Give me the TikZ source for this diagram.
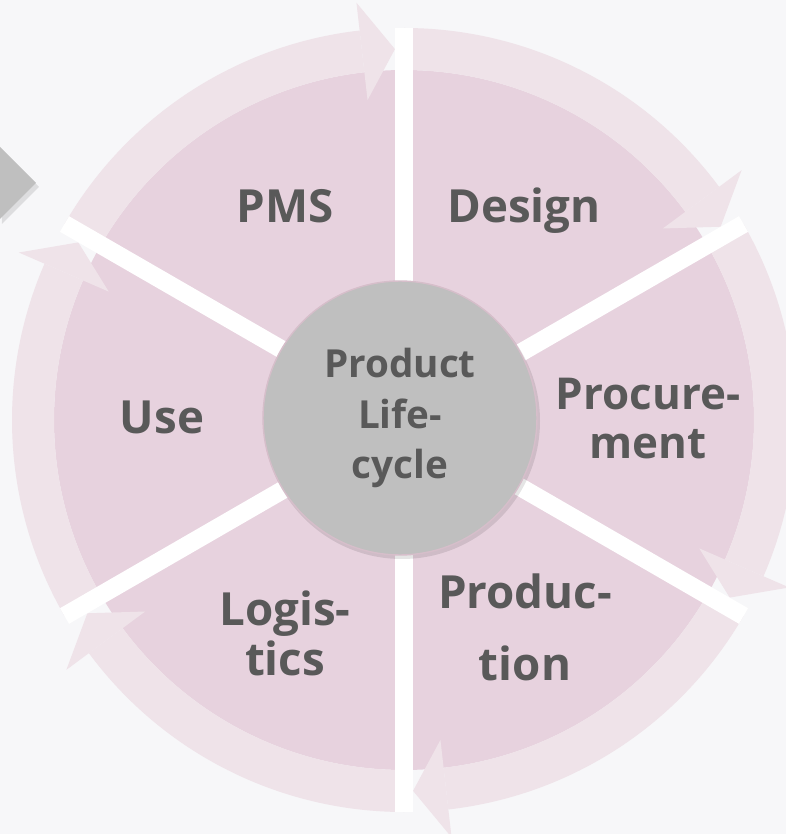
\documentclass[tikz,border=0pt]{standalone}
\usepackage{fontspec}
\setmainfont{Open Sans}
\usepackage{tikz}
\usetikzlibrary{arrows}
\definecolor{lcback}{RGB}{247,247,249}
\definecolor{lcpink}{RGB}{231,210,222}
\definecolor{lcband}{RGB}{239,227,233}
\definecolor{lchub}{RGB}{191,191,191}
\definecolor{lcrim}{RGB}{214,190,202}
\definecolor{lctext}{RGB}{89,89,89}
\tikzstyle{every picture}=[x=0.02cm,y=0.02cm]
\tikzstyle{phase}=[text=lctext, inner sep=0pt, align=center, font=\bfseries\fontsize{26}{28.5}\selectfont]
\tikzstyle{gapline}=[white, line width=0.36cm]
\tikzstyle{hub}=[circle, fill=lchub, draw=lcrim, line width=0.8pt, minimum size=5.48cm, inner sep=0pt]
% one slice of the wheel, #1 = angle of its arrow end
\newcommand{\lifesegment}[1]{%
  \fill[lcpink] (0,0) -- (#1:350) arc[start angle=#1, end angle=#1+60, radius=350] -- cycle;
  \fill[lcband] (#1+60:350) arc[start angle=#1+60, end angle=#1+6.5, radius=350]
    -- (#1+6.5:392) arc[start angle=#1+6.5, end angle=#1+60, radius=392] -- cycle;
  \fill[lcband] (#1+6.5:322) -- (#1+1.4:371) -- (#1+6.5:420) -- cycle;
}

\begin{document}
\begin{tikzpicture}
    \useasboundingbox (-404,-414) rectangle (382,420);
    \clip (-404,-414) rectangle (382,420);
    \fill[lcback] (-404,-414) rectangle (382,420);
    \fill[black, opacity=0.1] (-402,270) -- (-365,233) -- (-402,196) -- cycle;
    \fill[lchub] (-404,273) -- (-368,237) -- (-404,201) -- cycle;
    \lifesegment{90}
    \lifesegment{30}
    \lifesegment{-30}
    \lifesegment{-90}
    \lifesegment{-150}
    \lifesegment{150}
    \draw[gapline] (0,0) -- (90:392);
    \draw[gapline] (0,0) -- (30:392);
    \draw[gapline] (0,0) -- (-30:392);
    \draw[gapline] (0,0) -- (-90:392);
    \draw[gapline] (0,0) -- (-150:392);
    \draw[gapline] (0,0) -- (150:392);
    \fill[black, opacity=0.1] (-2,-1) circle (138);
    \node[hub, phase, font=\bfseries\fontsize{22}{28.9}\selectfont] (lifecycle) at (-4,2) {Product\\Life-\\cycle};
    \node[phase] (pms) at (-119,213.5) {PMS};
    \node[phase] (design) at (120,209.5) {Design};
    \node[phase, font=\bfseries\fontsize{25}{28.3}\selectfont] (procurement) at (244,1.5) {Procure-\\ment};
    \node[phase, font=\bfseries\fontsize{26}{41}\selectfont] (production) at (121,-207.5) {Produc-\\tion};
    \node[phase] (logistics) at (-119,-213.5) {Logis-\\tics};
    \node[phase] (use) at (-242,2.5) {Use};
  \end{tikzpicture}
\end{document}
